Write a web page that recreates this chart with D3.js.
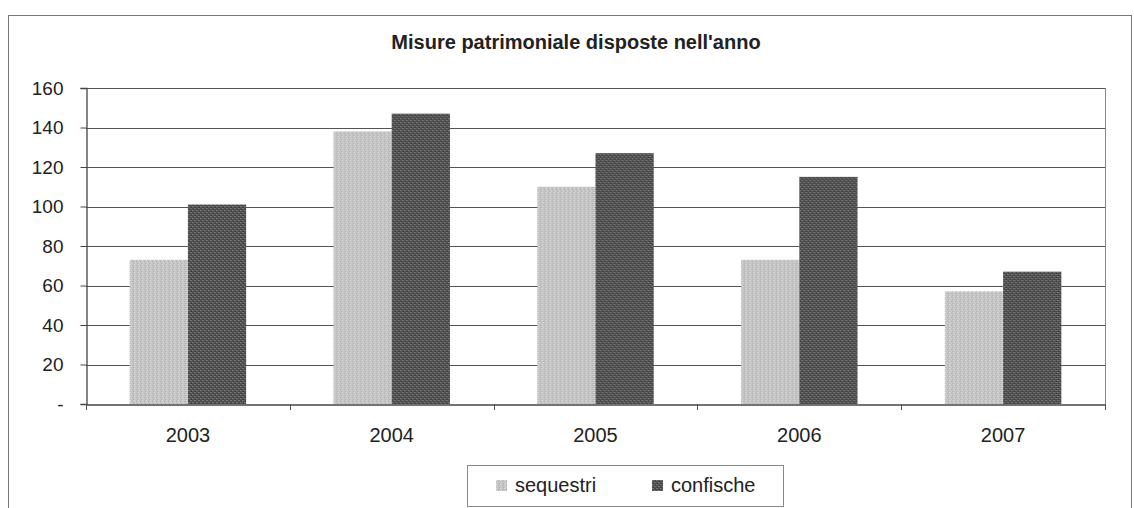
<!DOCTYPE html>
<html>
<head>
<meta charset="utf-8">
<script src="https://cdn.jsdelivr.net/npm/d3@7"></script>
<style>
  html, body { margin: 0; padding: 0; background: #fff; }
  svg { display: block; font-family: Arial, "Liberation Sans", sans-serif; }
</style>
</head>
<body>
<svg id="chart" width="1134" height="508"></svg>
<script>
const title = "Misure patrimoniale disposte nell'anno";
const years = ["2003", "2004", "2005", "2006", "2007"];
const seriesNames = ["sequestri", "confische"];
const sequestri = [73, 138, 110, 73, 57];
const confische = [101, 147, 127, 115, 67];
const yTicks = [0, 20, 40, 60, 80, 100, 120, 140, 160];

const svg = d3.select("#chart");
const m = { left: 86, right: 1105, top: 88, bottom: 404 };

// patterns (textured fills)
const defs = svg.append("defs");
function makePattern(id, base, dots) {
  const p = defs.append("pattern").attr("id", id).attr("patternUnits", "userSpaceOnUse")
    .attr("width", 4).attr("height", 4);
  p.append("rect").attr("width", 4).attr("height", 4).attr("fill", base);
  dots.forEach(d => p.append("rect").attr("x", d[0]).attr("y", d[1]).attr("width", 1).attr("height", 1).attr("fill", d[2]));
}
makePattern("patSeq", "#c6c6c6", [[0,0,"#dedede"],[2,1,"#adadad"],[1,2,"#d6d6d6"],[3,3,"#b2b2b2"],[3,0,"#bbbbbb"]]);
makePattern("patConf", "#505050", [[0,0,"#7a7a7a"],[1,0,"#6e6e6e"],[2,2,"#7a7a7a"],[3,2,"#6e6e6e"],[1,3,"#3a3a3a"],[3,1,"#3a3a3a"]]);
const fills = { sequestri: "url(#patSeq)", confische: "url(#patConf)" };

// chart area border
svg.append("rect").attr("x", 8.5).attr("y", 15.5).attr("width", 1123).attr("height", 520)
  .attr("fill", "none").attr("stroke", "#777").attr("stroke-width", 1);

// title
svg.append("text").attr("x", 576).attr("y", 49).attr("text-anchor", "middle")
  .attr("font-weight", "bold").attr("font-size", 20).attr("fill", "#222").text(title);

const x0 = d3.scaleBand().domain(years).range([m.left, m.right]).padding(0);
const bw = x0.bandwidth();
const x1 = d3.scaleBand().domain(seriesNames).range([bw * 0.75 / 3.5, bw * 2.75 / 3.5]).padding(0);
const y = d3.scaleLinear().domain([0, 160]).range([m.bottom, m.top]);

// gridlines
svg.append("g").selectAll("line").data(yTicks.filter(d => d > 0)).join("line")
  .attr("x1", m.left).attr("x2", m.right)
  .attr("y1", d => Math.round(y(d)) + 0.5).attr("y2", d => Math.round(y(d)) + 0.5)
  .attr("stroke", "#555").attr("stroke-width", 1.2);

// plot right border
svg.append("line").attr("x1", m.right + 0.5).attr("x2", m.right + 0.5)
  .attr("y1", m.top).attr("y2", m.bottom).attr("stroke", "#888").attr("stroke-width", 1);

// bars
const data = years.map((yr, i) => ({ yr, vals: [
  { key: "sequestri", v: sequestri[i] }, { key: "confische", v: confische[i] } ] }));
svg.append("g").selectAll("g").data(data).join("g")
  .attr("transform", d => `translate(${x0(d.yr)},0)`)
  .selectAll("rect").data(d => d.vals).join("rect")
  .attr("x", d => x1(d.key)).attr("width", x1.bandwidth())
  .attr("y", d => y(d.v)).attr("height", d => y(0) - y(d.v))
  .attr("fill", d => fills[d.key]);

// y axis
const yAxis = d3.axisLeft(y).tickValues(yTicks).tickSize(6).tickPadding(17)
  .tickFormat(d => d === 0 ? "-" : d);
const ya = svg.append("g").attr("transform", `translate(${m.left + 0.5},0)`).call(yAxis);
ya.select(".domain").attr("stroke", "#444").attr("stroke-width", 1.3);
ya.selectAll(".tick line").attr("stroke", "#444");
ya.selectAll("text").attr("font-size", 19).attr("fill", "#222").attr("font-family", "Arial, 'Liberation Sans', sans-serif");

// x axis
const xAxis = d3.axisBottom(x0).tickSize(0).tickPadding(23);
const xa = svg.append("g").attr("transform", `translate(0,${m.bottom + 0.5})`).call(xAxis);
xa.select(".domain").attr("stroke", "#444").attr("stroke-width", 1.6);
xa.selectAll("text").attr("font-size", 20).attr("fill", "#222").attr("font-family", "Arial, 'Liberation Sans', sans-serif");
// category separator ticks
svg.append("g").selectAll("line").data(years.concat(["end"])).join("line")
  .attr("x1", (d, i) => Math.round(m.left + i * bw) + 0.5).attr("x2", (d, i) => Math.round(m.left + i * bw) + 0.5)
  .attr("y1", m.bottom).attr("y2", m.bottom + 6).attr("stroke", "#555");

// legend
const lg = svg.append("g");
lg.append("rect").attr("x", 467.5).attr("y", 465.5).attr("width", 316).attr("height", 41)
  .attr("fill", "#fff").attr("stroke", "#888");
const legendX = [496, 652];
seriesNames.forEach((s, i) => {
  lg.append("rect").attr("x", legendX[i]).attr("y", 480).attr("width", 11).attr("height", 11).attr("fill", fills[s]);
  lg.append("text").attr("x", legendX[i] + 19).attr("y", 492).attr("font-size", 20).attr("fill", "#222").text(s);
});
</script>
</body>
</html>
